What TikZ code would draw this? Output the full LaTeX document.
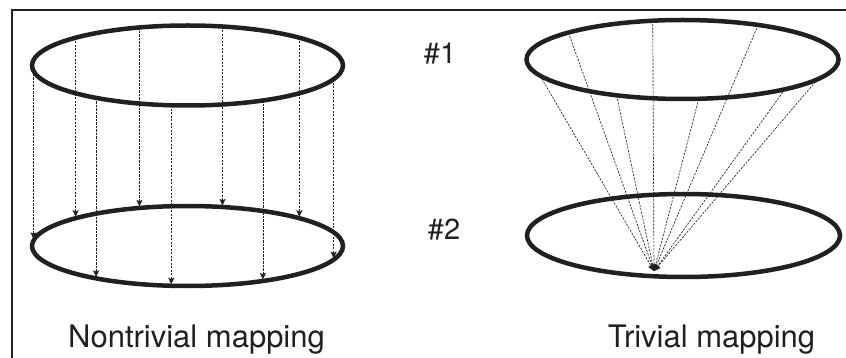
\documentclass[tikz,border=0pt]{standalone}
\usepackage{fontspec}
\setmainfont{TeX Gyre Heros}
\usetikzlibrary{arrows.meta,calc}
\definecolor{ink}{HTML}{231F20}
\tikzset{
  ring/.style={draw=ink,line width=4.5pt},
  framerule/.style={draw=ink,line width=2pt},
  maparrow/.style={draw=ink,line width=0.65pt,dash pattern=on 2.2pt off 1.3pt,
    -{Stealth[length=6.5pt,width=6pt,inset=1.2pt]}},
  caption/.style={font=\fontsize{31}{34}\selectfont,text=ink,inner sep=0pt,anchor=base},
  tag/.style={font=\fontsize{29}{32}\selectfont,text=ink,inner sep=0pt}
}
\begin{document}
\begin{tikzpicture}[x=1pt,y=-1pt]
\useasboundingbox (0,0) rectangle (846,358);
% frame
\coordinate (fr) at (846,10);
\coordinate (fc) at (12,10);
\coordinate (fb) at (12,358);
\draw[framerule] (fr) -- (fc) -- (fb);
% ellipse centres
\coordinate (LT) at (187.5,65.5);
\coordinate (LB) at (187.5,246);
\coordinate (RT) at (682.5,59.5);
\coordinate (RB) at (683.5,235.5);
\coordinate (F) at (654,271);
% left mapping arrows (vertical)
\foreach \a in {172,136,234,108,264,77,299,44,340}{
  \coordinate (s\a) at ($(LT)+(-\a:155.5 and 40)$);
  \coordinate (e\a) at ($(LB)+(-\a:155.5 and 40)$);
  \draw[maparrow,shorten >=1.5pt] (s\a) -- (e\a);
}
% right mapping arrows (converging)
\foreach \a in {137,101,61,204,245,276,311,330}{
  \coordinate (r\a) at ($(RT)+(-\a:156 and 39.5)$);
  \draw[maparrow] (r\a) -- (F);
}
\draw[ring] (LT) ellipse [x radius=155.5,y radius=40];
\draw[ring] (LB) ellipse [x radius=155.5,y radius=40];
\draw[ring] (RT) ellipse [x radius=156,y radius=39.5];
\draw[ring] (RB) ellipse [x radius=156.5,y radius=41.5];
% labels
\node[tag] (n1) at (440,54) {\#1};
\node[tag] (n2) at (444,230) {\#2};
\node[caption] (c1) at (196.5,347) {Nontrivial mapping};
\node[caption] (c2) at (711.5,347) {Trivial mapping};
\end{tikzpicture}
\end{document}
